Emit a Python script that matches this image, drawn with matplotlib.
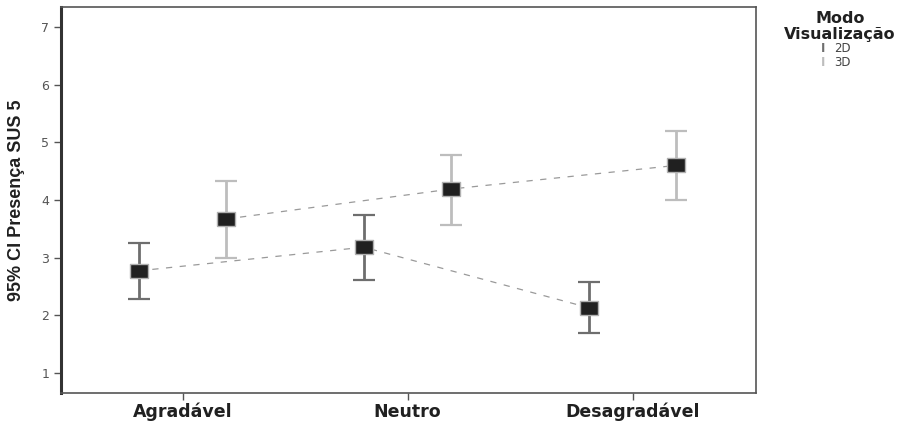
import numpy as np
import matplotlib.pyplot as plt

categories = ["Agradável", "Neutro", "Desagradável"]
modes = ["2D", "3D"]
means_2d = [2.77, 3.18, 2.13]
lower_2d = [2.28, 2.61, 1.69]
upper_2d = [3.25, 3.74, 2.58]
means_3d = [3.67, 4.19, 4.60]
lower_3d = [2.99, 3.56, 4.00]
upper_3d = [4.33, 4.78, 5.20]

fig = plt.figure(figsize=(9.09, 4.22), dpi=100)
ax = fig.add_axes([0.0671, 0.0687, 0.765, 0.915])

x = np.arange(len(categories))
offset = 0.195
rect = [(-1.3, -1), (1.3, -1), (1.3, 1), (-1.3, 1), (-1.3, -1)]
series = [
    (means_2d, lower_2d, upper_2d, -offset, "#6e6e6e"),
    (means_3d, lower_3d, upper_3d, offset, "#bdbdbd"),
]
for m, lo, hi, off, col in series:
    m = np.array(m)
    err = [m - np.array(lo), np.array(hi) - m]
    xs = x + off
    ax.plot(xs, m, ls=(0, (5, 6)), color="#9a9a9a", lw=0.9, zorder=1)
    ax.errorbar(xs, m, yerr=err, fmt="none", ecolor=col, elinewidth=2.0,
                capsize=8, capthick=1.6, zorder=2)
    ax.plot(xs, m, ls="none", marker=rect, ms=13, mfc="#202020", mec="#b0b0b0",
            mew=1.0, zorder=3)

ax.set_xlim(-0.54, 2.55)
ax.set_ylim(0.65, 7.35)
ax.set_xticks(x)
ax.set_xticklabels(categories, fontsize=12.5, fontweight="bold", color="#202020")
ax.set_yticks(range(1, 8))
ax.tick_params(axis="y", labelsize=9, colors="#555555", length=5, width=1.0)
ax.tick_params(axis="x", length=5, width=1.0, color="#555555", pad=2)
ax.set_ylabel("95% CI Presença SUS 5", fontsize=13, fontweight="bold",
              fontfamily=["Liberation Sans Narrow", "Liberation Sans"],
              color="#202020", labelpad=12)

ax.spines["left"].set_linewidth(2.2)
ax.spines["left"].set_color("#333333")
ax.spines["bottom"].set_linewidth(1.2)
ax.spines["bottom"].set_color("#555555")
for s in ("top", "right"):
    ax.spines[s].set_linewidth(1.2)
    ax.spines[s].set_color("#555555")

fig.text(0.924, 0.955, "Modo", ha="center", va="center", fontsize=11.5,
         fontweight="bold", color="#202020")
fig.text(0.924, 0.918, "Visualização", ha="center", va="center", fontsize=11.5,
         fontweight="bold", color="#202020")
legend_colors = ["#6e6e6e", "#bdbdbd"]
for i, (lab, col) in enumerate(zip(modes, legend_colors)):
    yy = 0.886 - i * 0.033
    fig.text(0.906, yy, "I", ha="center", va="center", fontsize=8.5,
             color=col, fontweight="bold")
    fig.text(0.918, yy, lab, ha="left", va="center", fontsize=8.5, color="#444444")

fig.savefig("out.png", dpi=100)
